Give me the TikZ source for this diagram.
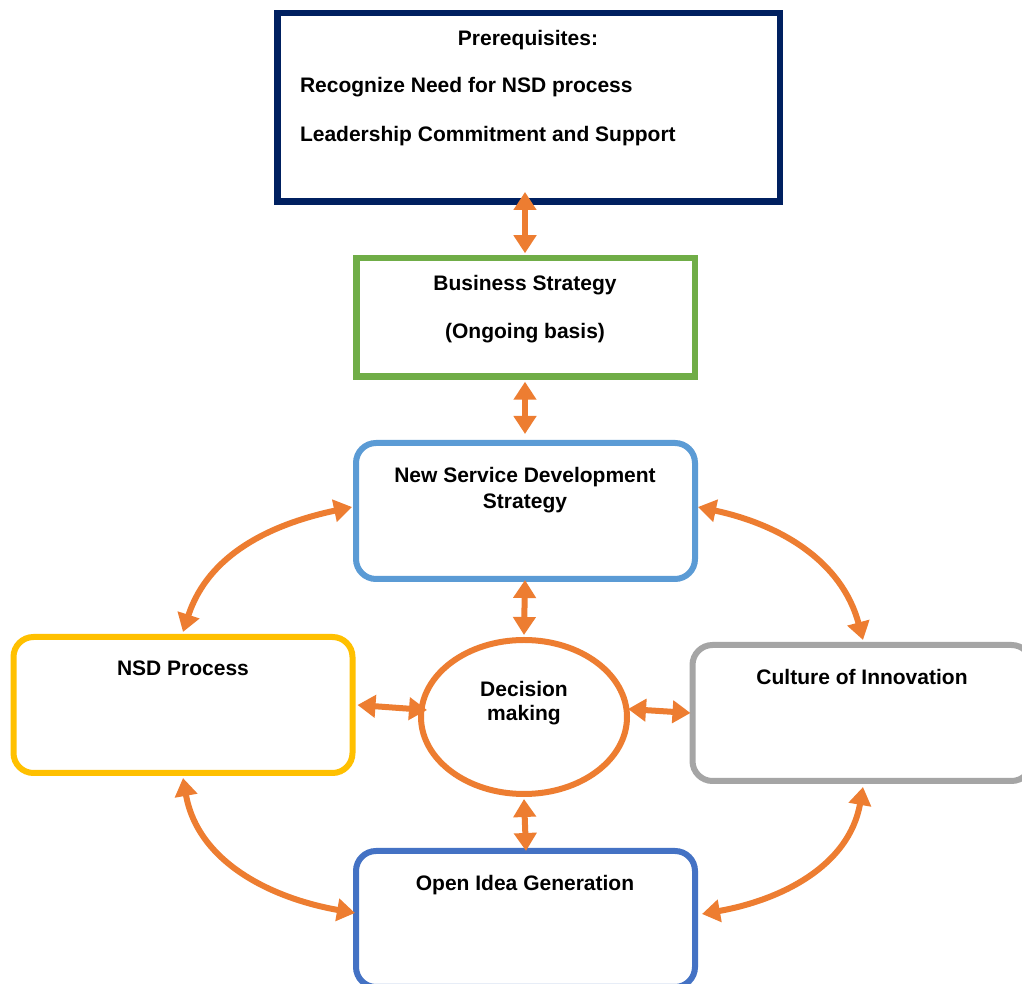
\documentclass[tikz,border=0pt]{standalone}
\usepackage{fontspec}
\setmainfont{Liberation Sans}
\usetikzlibrary{arrows.meta,shapes.geometric}
\definecolor{navy}{HTML}{002060}
\definecolor{lgreen}{HTML}{70AD47}
\definecolor{lblue}{HTML}{5B9BD5}
\definecolor{gold}{HTML}{FFC000}
\definecolor{lgrey}{HTML}{A5A5A5}
\definecolor{mblue}{HTML}{4472C4}
\definecolor{orng}{HTML}{ED7D31}
\begin{document}
\begin{tikzpicture}[x=1pt,y=1pt,
  box/.style={draw, rectangle, outer sep=0pt, inner sep=0pt, fill=white},
  rbox/.style={box, rounded corners=20pt, line width=6pt, minimum width=339pt, minimum height=136pt},
  lbl/.style={inner sep=0pt, outer sep=0pt, font=\fontsize{21}{25}\selectfont\bfseries, text=black},
  link/.style={orng, line width=6pt, {Triangle[length=18pt,width=22pt]}-{Triangle[length=18pt,width=22pt]}}
]
\clip (0,0) rectangle (1022,984);
\fill[white] (0,0) rectangle (1022,984);

% boxes
\node[box, draw=navy, line width=6.5pt, minimum width=502.5pt, minimum height=188.5pt] (pre) at (528.5, 984-107.5) {};
\node[box, draw=lgreen, line width=6.5pt, minimum width=338.5pt, minimum height=118.5pt] (bus) at (525.5, 984-317.5) {};
\node[rbox, draw=lblue] (nsds) at (525.5, 984-511) {};
\node[rbox, draw=gold] (proc) at (183, 984-705) {};
\node[rbox, draw=lgrey] (cult) at (862, 984-713) {};
\node[rbox, draw=mblue] (open) at (525.5, 984-919) {};
\node[draw=orng, ellipse, line width=6pt, outer sep=0pt, inner sep=0pt, fill=white, minimum width=206pt, minimum height=154pt] (dec) at (524, 984-717) {};

% texts
\node[lbl, anchor=base] (t1) at (528, 984-46) {Prerequisites:};
\node[lbl, anchor=base west] (t2) at (300, 984-93) {Recognize Need for NSD process};
\node[lbl, anchor=base west] (t3) at (300, 984-142) {Leadership Commitment and Support};
\node[lbl, anchor=base] (t4) at (525, 984-291) {Business Strategy};
\node[lbl, anchor=base] (t5) at (525, 984-339) {(Ongoing basis)};
\node[lbl, anchor=base] (t6) at (525, 984-483) {New Service Development};
\node[lbl, anchor=base] (t7) at (525, 984-509) {Strategy};
\node[lbl, anchor=base] (t8) at (183, 984-676) {NSD Process};
\node[lbl, anchor=base] (t9) at (524, 984-697) {Decision};
\node[lbl, anchor=base] (t10) at (524, 984-721) {making};
\node[lbl, anchor=base] (t11) at (862, 984-685) {Culture of Innovation};
\node[lbl, anchor=base] (t12) at (525, 984-891) {Open Idea Generation};

% straight connectors
\draw[link] ([shift={(-3.5,9.75)}]pre.south) -- ([shift={(-0.5,5)}]bus.north);
\draw[link] ([shift={(-0.5,-5)}]bus.south) -- ([shift={(-0.5,9)}]nsds.north);
\draw[link] ([shift={(-0.5,-1)}]nsds.south) -- ([shift={(0,5)}]dec.north);
\draw[link] ([shift={(0,-5)}]dec.south) -- ([shift={(0.5,0)}]open.north);
\draw[link] ([shift={(5,0)}]proc.east) -- ([shift={(6,7)}]dec.west);
\draw[link] ([shift={(1,8)}]dec.east) -- ([shift={(-2,0)}]cult.west);

% curved connectors
\draw[link] ([shift={(0,5)}]proc.north) to[out=72, in=192] ([shift={(-4,4)}]nsds.west);
\draw[link] ([shift={(3,4)}]nsds.east) to[out=-12, in=105] ([shift={(1,5)}]cult.north);
\draw[link] ([shift={(0,-5)}]proc.south) to[out=-80, in=170] ([shift={(-1,6)}]open.west);
\draw[link] ([shift={(1,-6)}]cult.south) to[out=-100, in=10] ([shift={(7,5)}]open.east);
\end{tikzpicture}
\end{document}
